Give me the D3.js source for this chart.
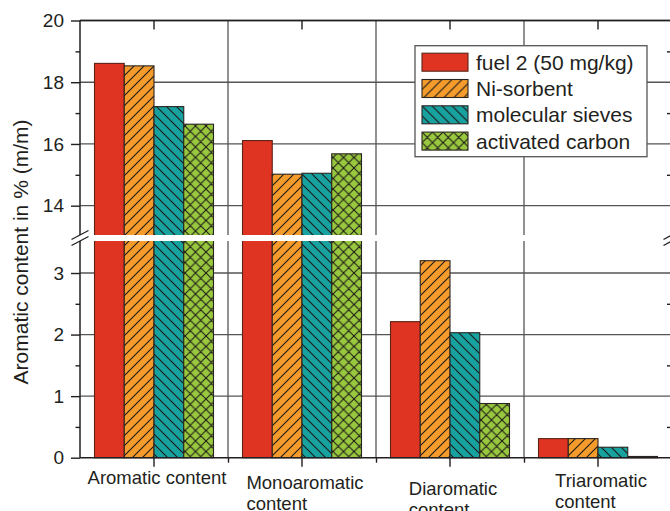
<!DOCTYPE html>
<html>
<head>
<meta charset="utf-8">
<script src="https://cdn.jsdelivr.net/npm/d3@7"></script>
<style>
body{margin:0;background:#fff;}
svg text{font-family:Arial,'Liberation Sans',Helvetica,sans-serif;fill:#231f20;}
</style>
</head>
<body>
<svg class="barChart" width="670" height="511"></svg>
<script>
// data
var categories = [['Aromatic content'],['Monoaromatic','content'],['Diaromatic','content'],['Triaromatic','content']];
var seriesNames = ['fuel 2 (50 mg/kg)','Ni-sorbent','molecular sieves','activated carbon'];
var fuel2 = [18.61, 16.11, 2.21, 0.31];
var niSorbent = [18.53, 15.02, 3.20, 0.31];
var molSieves = [17.21, 15.05, 2.03, 0.17];
var actCarbon = [16.64, 15.68, 0.88, 0.02];
var upperTicks = [14,16,18,20];
var upperMinor = [15,17,19];
var lowerTicks = [0,1,2,3];
var lowerMinor = [0.5,1.5,2.5];

var config = {
	left:80, right:672, top:20.5, bottom:457.7,
	breakTop:235, breakBottom:241,
	colors:['#e03422','#f59b2b','#17a19f','#98c83e'],
	fills:['url(#pRed)','url(#pOrange)','url(#pTeal)','url(#pGreen)'],
	ink:'#231f20', grid:'#555'
};

var values = [fuel2, niSorbent, molSieves, actCarbon];
var data = categories.map(function(c,i){
	return {cat:c.join(' '), lines:c, vals:values.map(function(s,j){return {name:seriesNames[j], v:s[i], j:j};})};
});

var svg = d3.select('.barChart');

// patterns
var defs = svg.append('defs');
function makePattern(id,col,size,path){
	var p = defs.append('pattern').attr('id',id)
		.attr('patternUnits','userSpaceOnUse')
		.attr('width',size).attr('height',size);
	p.append('rect').attr('width',size).attr('height',size).attr('fill',col);
	if(path) p.append('path').attr('d',path).attr('stroke','#1e1a18').attr('stroke-width',1.1).attr('fill','none');
}
makePattern('pRed',config.colors[0],10,null);
makePattern('pOrange',config.colors[1],10,'M0,10L10,0M-2,2L2,-2M8,12L12,8');
makePattern('pTeal',config.colors[2],10,'M0,0L10,10M-2,8L2,12M8,-2L12,2');
makePattern('pGreen',config.colors[3],10.5,'M0,0L10.5,10.5M-2,8.5L2,12.5M8.5,-2L12.5,2M0,10.5L10.5,0M-2,2L2,-2M8.5,12.5L12.5,8.5');

// scales
var yU = d3.scaleLinear().domain([13.05,20]).range([config.breakTop,config.top]);
var yL = d3.scaleLinear().domain([0,3.52]).range([config.bottom,config.breakBottom]);
function yPos(v){ return v > yL.domain()[1] ? yU(v) : yL(v); }

var x = d3.scaleBand().domain(data.map(function(d){return d.cat;})).range([config.left,config.right]);
var xInner = d3.scaleBand().domain(seriesNames).range([0,x.bandwidth()]).paddingOuter(0.4875);
var xLin = d3.scaleLinear().domain([0,categories.length]).range([config.left,config.right]);

// grid
var grid = svg.append('g').attr('stroke',config.grid).attr('stroke-width',1.3);
upperTicks.forEach(function(t){
	grid.append('line').attr('x1',config.left).attr('x2',config.right).attr('y1',yU(t)).attr('y2',yU(t));
});
lowerTicks.slice(1).forEach(function(t){
	grid.append('line').attr('x1',config.left).attr('x2',config.right).attr('y1',yL(t)).attr('y2',yL(t));
});
[1,2,3].forEach(function(t){
	grid.append('line').attr('x1',xLin(t)).attr('x2',xLin(t)).attr('y1',config.top).attr('y2',config.bottom);
});

// bars
var groups = svg.selectAll('.grp').data(data).enter().append('g')
	.attr('class','grp')
	.attr('transform',function(d){return 'translate('+x(d.cat)+',0)';});

groups.selectAll('rect').data(function(d){return d.vals;}).enter().append('rect')
	.attr('x',function(d){return xInner(d.name);})
	.attr('width',xInner.bandwidth())
	.attr('y',function(d){return yPos(d.v);})
	.attr('height',function(d){return config.bottom - yPos(d.v);})
	.attr('fill',function(d){return config.fills[d.j];})
	.attr('stroke',function(d){return d.j===0 ? '#5a2418' : '#2a2420';})
	.attr('stroke-width',1.1);

// axes
function styleAxis(g){
	g.select('.domain').remove();
	g.selectAll('line').attr('stroke',config.ink).attr('stroke-width',1.4);
	g.selectAll('text').attr('font-size',19).attr('fill',config.ink);
}
svg.append('g').attr('transform','translate('+config.left+',0)')
	.call(d3.axisLeft(yU).tickValues(upperTicks).tickSize(9).tickPadding(7).tickFormat(d3.format('d'))).call(styleAxis);
svg.append('g').attr('transform','translate('+config.left+',0)')
	.call(d3.axisLeft(yU).tickValues(upperMinor).tickSize(4.5).tickFormat('')).call(styleAxis);
svg.append('g').attr('transform','translate('+config.left+',0)')
	.call(d3.axisLeft(yL).tickValues(lowerTicks).tickSize(9).tickPadding(7).tickFormat(d3.format('d'))).call(styleAxis);
svg.append('g').attr('transform','translate('+config.left+',0)')
	.call(d3.axisLeft(yL).tickValues(lowerMinor).tickSize(4.5).tickFormat('')).call(styleAxis);
// right side, inward ticks
svg.append('g').attr('transform','translate('+config.right+',0)')
	.call(d3.axisLeft(yU).tickValues(upperMinor).tickSize(5).tickFormat('')).call(styleAxis);
svg.append('g').attr('transform','translate('+config.right+',0)')
	.call(d3.axisLeft(yL).tickValues(lowerMinor).tickSize(5).tickFormat('')).call(styleAxis);
// bottom
svg.append('g').attr('transform','translate(0,'+config.bottom+')')
	.call(d3.axisBottom(x).tickSize(9).tickFormat('')).call(styleAxis);
svg.append('g').attr('transform','translate(0,'+config.bottom+')')
	.call(d3.axisBottom(xLin).tickValues([1,2,3]).tickSize(5).tickFormat('')).call(styleAxis);
// top, inward
svg.append('g').attr('transform','translate(0,'+config.top+')')
	.call(d3.axisBottom(x).tickSize(9).tickFormat('')).call(styleAxis);

// frame
var frame = svg.append('g').attr('stroke',config.ink).attr('stroke-width',1.5);
frame.append('line').attr('x1',config.left).attr('x2',config.right).attr('y1',config.top).attr('y2',config.top);
frame.append('line').attr('x1',config.left).attr('x2',config.right).attr('y1',config.bottom).attr('y2',config.bottom);
frame.append('line').attr('x1',config.left).attr('x2',config.left).attr('y1',config.top).attr('y2',config.bottom);
frame.append('line').attr('x1',config.right).attr('x2',config.right).attr('y1',config.top).attr('y2',config.bottom);

// axis break
svg.append('rect').attr('x',config.left-2).attr('width',config.right-config.left+4)
	.attr('y',config.breakTop).attr('height',config.breakBottom-config.breakTop).attr('fill','#fff');
[config.left, config.right].forEach(function(px){
	[config.breakTop, config.breakBottom].forEach(function(py){
		svg.append('line').attr('x1',px-8.5).attr('x2',px+8.5).attr('y1',py+4.5).attr('y2',py-4.5)
			.attr('stroke',config.ink).attr('stroke-width',1.3);
	});
});

// category labels
var labelDy = [0,5,11,3];
groups.each(function(d,i){
	var g = d3.select(this);
	var cx = x.bandwidth()/2 + 3;
	var t = g.append('text').attr('font-size',18.5);
	var first = t.append('tspan').text(d.lines[0]);
	var w = first.node().getComputedTextLength();
	first.attr('x',cx - w/2).attr('y',484+labelDy[i]);
	if(d.lines.length>1){
		t.append('tspan').text(d.lines[1]).attr('x',cx - w/2).attr('y',484+labelDy[i]+21);
	}
});

// y title
svg.append('text')
	.attr('transform','translate(28,252) rotate(-90)')
	.attr('text-anchor','middle')
	.attr('font-size',21)
	.text('Aromatic content in % (m/m)');

// legend
var legend = svg.append('g').attr('transform','translate(415,45.7)');
legend.append('rect').attr('width',232).attr('height',111)
	.attr('fill','#fff').attr('stroke','#555').attr('stroke-width',1.3);
var rows = legend.selectAll('.row').data(seriesNames).enter().append('g')
	.attr('transform',function(d,i){return 'translate(7,'+(7.5+i*26.3)+')';});
rows.append('rect').attr('width',46).attr('height',18)
	.attr('fill',function(d,i){return config.fills[i];})
	.attr('stroke',function(d,i){return i===0 ? '#5a2418' : '#2a2420';})
	.attr('stroke-width',1.1);
rows.append('text').attr('x',54).attr('y',16.5).attr('font-size',21).text(function(d){return d;});
</script>
</body>
</html>
